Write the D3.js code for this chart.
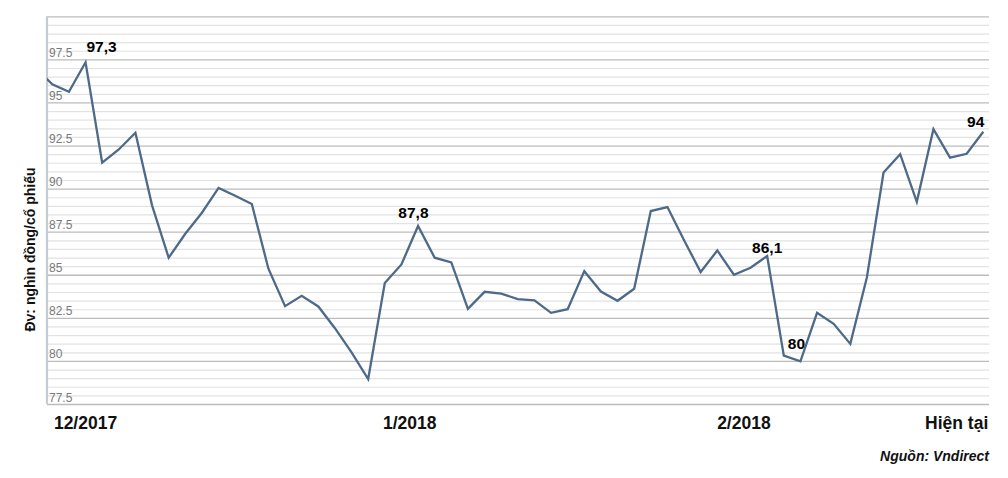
<!DOCTYPE html>
<html><head><meta charset="utf-8">
<script src="https://cdn.jsdelivr.net/npm/d3@7/dist/d3.min.js"></script>
<style>body{margin:0;background:#fff}svg{display:block}</style>
</head><body>
<svg id="c" width="1008" height="478"></svg>
<script>
// Weekly price (nghìn đồng/cổ phiếu); first value is the partly visible point before the axis
const prices = [97.0, 96.05, 95.62, 97.33, 91.51, 92.27, 93.24, 89.03, 85.99, 87.38, 88.6,
  90.04, 89.59, 89.11, 85.35, 83.18, 83.78, 83.16, 81.9, 80.5, 78.95,
  84.52, 85.6, 87.83, 85.99, 85.72, 83.02, 84.01, 83.9, 83.59, 83.51,
  82.79, 83.0, 85.21, 84.03, 83.49, 84.19, 88.7, 88.93, 87.0, 85.16,
  86.41, 85.0, 85.41, 86.09, 80.31, 79.98, 82.79, 82.15, 80.99, 84.86,
  90.93, 92.0, 89.23, 93.45, 91.8, 92.02, 93.3];
const xLabels = ["12/2017", "1/2018", "2/2018", "Hiện tại"];
const xLabelIdx = [3, 22.5, 42.6, 55.4];
const annoText = ["97,3", "87,8", "86,1", "80", "94"];
const annoIdx = [3, 23, 44, 46, 57];
const yMajorTicks = [77.5, 80, 82.5, 85, 87.5, 90, 92.5, 95, 97.5, 100];
const yTickLabels = ["77.5", "80", "82.5", "85", "87.5", "90", "92.5", "95", "97.5"];
const yTitle = "Đv: nghìn đồng/cổ phiếu";
const source = "Nguồn: Vndirect";

// layout
const L = 47, R = 989, T = 16.3, B = 404;
const annoDx = [16, -4.6, 0, -4, -7.6];
const annoDy = [-10, -8.4, -3.4, -12.4, -5];

const svg = d3.select("#c");
const x = d3.scaleLinear().domain([0, prices.length - 1]).range([35.675, 983.3]);
const y = d3.scaleLinear().domain([77.5, 100]).range([B, T]);

const minor = d3.range(77.5, 100.01, 0.5).filter(v => !yMajorTicks.some(m => Math.abs(m - v) < 1e-6));

// minor gridlines
svg.append("g").attr("transform", `translate(${L},0)`)
  .call(d3.axisRight(y).tickValues(minor).tickSize(R - L).tickFormat(""))
  .call(g => g.select(".domain").remove())
  .call(g => g.selectAll(".tick line").attr("stroke", "#e2e2e2").attr("stroke-width", 1.2));

// major gridlines + labels
svg.append("g").attr("transform", `translate(${L},0)`)
  .call(d3.axisRight(y).tickValues(yMajorTicks).tickSize(R - L)
    .tickFormat(d => { const i = yMajorTicks.indexOf(d); return i < yTickLabels.length ? yTickLabels[i] : ""; }))
  .call(g => g.select(".domain").remove())
  .call(g => g.selectAll(".tick line").attr("stroke", "#bcbcbc").attr("stroke-width", 1.3))
  .call(g => g.selectAll(".tick text").attr("x", 2).attr("dy", -3).attr("text-anchor", "start")
    .attr("dominant-baseline", "auto")
    .attr("fill", "#7a7a7a").style("font", "12px 'Liberation Sans', Arial, sans-serif"));

// left axis line
svg.append("line").attr("x1", L).attr("x2", L).attr("y1", y(100)).attr("y2", y(77.5))
  .attr("stroke", "#c3ccd5").attr("stroke-width", 2.2);

// clip
svg.append("clipPath").attr("id", "clip").append("rect")
  .attr("x", L).attr("y", 0).attr("width", R - L).attr("height", 478);

const line = d3.line().x((d, i) => x(i)).y(d => y(d));
svg.append("path").datum(prices).attr("d", line).attr("clip-path", "url(#clip)")
  .attr("fill", "none").attr("stroke", "#4e6a89").attr("stroke-width", 2.3)
  .attr("stroke-linejoin", "miter");

// annotations
svg.append("g").selectAll("text").data(annoText).join("text")
  .attr("x", (d, i) => x(annoIdx[i]) + annoDx[i])
  .attr("y", (d, i) => y(prices[annoIdx[i]]) + annoDy[i])
  .attr("text-anchor", "middle")
  .style("font", "bold 15.5px 'Liberation Sans', Arial, sans-serif").attr("fill", "#000")
  .text(d => d);

// x labels
svg.append("g").selectAll("text").data(xLabels).join("text")
  .attr("x", (d, i) => x(xLabelIdx[i]))
  .attr("y", 429)
  .attr("text-anchor", "middle")
  .style("font", "bold 17.5px 'Liberation Sans', Arial, sans-serif").attr("fill", "#111")
  .text(d => d);

// y title
svg.append("text").attr("transform", "translate(35,249.5) rotate(-90)")
  .attr("text-anchor", "middle")
  .style("font", "bold 14px 'Liberation Sans', Arial, sans-serif").attr("fill", "#111")
  .text(yTitle);

// source
svg.append("text").attr("x", R).attr("y", 461).attr("text-anchor", "end")
  .style("font", "italic bold 14px 'Liberation Sans', Arial, sans-serif").attr("fill", "#111")
  .text(source);
</script>
</body></html>
